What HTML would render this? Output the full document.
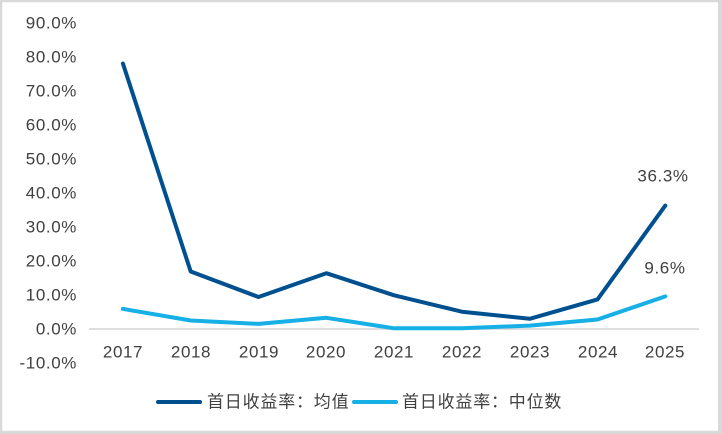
<!DOCTYPE html>
<html>
<head>
<meta charset="utf-8">
<style>
  html,body{margin:0;padding:0;background:#fff;}
  body{width:722px;height:434px;overflow:hidden;}
  svg{display:block;}
  text{font-family:"Liberation Sans","Noto Sans CJK SC",sans-serif;fill:#404040;font-size:17px;}
</style>
</head>
<body>
<svg width="722" height="434" viewBox="0 0 722 434" xmlns="http://www.w3.org/2000/svg">
  <rect x="0" y="0" width="722" height="434" fill="#fff"/>
  <!-- border -->
  <rect x="1" y="1" width="719" height="431" fill="none" stroke="#d9d9d9" stroke-width="2.5"/>
  <rect x="718" y="0" width="4" height="434" fill="#d9d9d9"/>
  <rect x="0" y="431" width="722" height="3" fill="#d9d9d9"/>

  <!-- y axis labels -->
  <g text-anchor="end" dominant-baseline="central" letter-spacing="0.6">
    <text x="77" y="23">90.0%</text>
    <text x="77" y="57">80.0%</text>
    <text x="77" y="91">70.0%</text>
    <text x="77" y="125">60.0%</text>
    <text x="77" y="159">50.0%</text>
    <text x="77" y="193">40.0%</text>
    <text x="77" y="227">30.0%</text>
    <text x="77" y="261">20.0%</text>
    <text x="77" y="295">10.0%</text>
    <text x="77" y="329">0.0%</text>
    <text x="77" y="363">-10.0%</text>
  </g>

  <!-- zero axis -->
  <line x1="89" y1="329" x2="699" y2="329" stroke="#d9d9d9" stroke-width="1.8"/>

  <!-- x labels -->
  <g text-anchor="middle" dominant-baseline="central" letter-spacing="0.6">
    <text x="123" y="352">2017</text>
    <text x="191" y="352">2018</text>
    <text x="259" y="352">2019</text>
    <text x="326" y="352">2020</text>
    <text x="394" y="352">2021</text>
    <text x="462" y="352">2022</text>
    <text x="530" y="352">2023</text>
    <text x="598" y="352">2024</text>
    <text x="665" y="352">2025</text>
  </g>

  <!-- median series -->
  <polyline fill="none" stroke="#16afe6" stroke-width="4" stroke-linecap="round" stroke-linejoin="round"
    points="122.9,308.9 190.7,320.5 258.5,323.9 326.3,317.8 394.1,328.3 461.9,328.3 529.7,325.6 597.5,319.5 665.3,296.4"/>
  <!-- mean series -->
  <polyline fill="none" stroke="#00508f" stroke-width="4" stroke-linecap="round" stroke-linejoin="round"
    points="122.9,63.5 190.7,271.5 258.5,297 326.3,273.2 394.1,295.3 461.9,311.7 529.7,318.8 597.5,299.4 665.3,205.6"/>

  <!-- data labels -->
  <g text-anchor="middle" dominant-baseline="central" letter-spacing="0.6">
    <text x="663" y="176">36.3%</text>
    <text x="665" y="268">9.6%</text>
  </g>

  <!-- legend -->
  <line x1="158" y1="402" x2="200" y2="402" stroke="#00508f" stroke-width="4" stroke-linecap="round"/>
  <text x="207" y="402" dominant-baseline="central" letter-spacing="0.8">首日收益率：均值</text>
  <line x1="354" y1="402" x2="396" y2="402" stroke="#16afe6" stroke-width="4" stroke-linecap="round"/>
  <text x="402" y="402" dominant-baseline="central" letter-spacing="0.8">首日收益率：中位数</text>
</svg>
</body>
</html>
